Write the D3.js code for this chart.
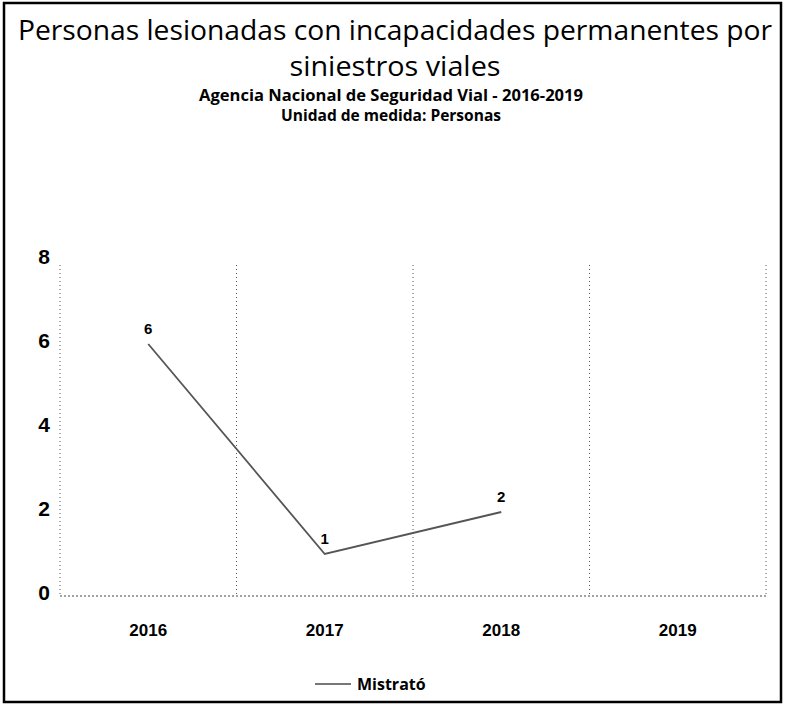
<!DOCTYPE html>
<html>
<head>
<meta charset="utf-8">
<script src="https://cdn.jsdelivr.net/npm/d3@7"></script>
<style>
  html, body { margin: 0; padding: 0; background: #fff; }
  svg { display: block; }
</style>
</head>
<body>
<svg id="chart" width="785" height="708"></svg>
<script>
// Data
const years = ["2016", "2017", "2018", "2019"];
const values = [6, 1, 2, null];
const yTicks = [0, 2, 4, 6, 8];
const seriesName = "Mistrató";
const titleLines = ["Personas lesionadas con incapacidades permanentes por", "siniestros viales"];
const titleWidths = [754, 211];
const subtitleLines = ["Agencia Nacional de Seguridad Vial - 2016-2019", "Unidad de medida: Personas"];
const subtitleWidths = [384, 220];

const svg = d3.select("#chart");
const plot = { left: 60, right: 766, top: 260, bottom: 596 };

// Frame
svg.append("rect")
  .attr("x", 4).attr("y", 3).attr("width", 777).attr("height", 699)
  .attr("fill", "none").attr("stroke", "#000").attr("stroke-width", 2.5);

// Titles
const title = svg.append("g").attr("font-family", "'Open Sans', sans-serif").attr("fill", "#000");
title.selectAll("text.t").data(titleLines).join("text")
  .attr("class", "t")
  .attr("x", 395).attr("y", (d, i) => 40 + i * 36)
  .attr("text-anchor", "middle")
  .attr("font-size", 28)
  .attr("textLength", (d, i) => titleWidths[i])
  .attr("lengthAdjust", "spacingAndGlyphs")
  .text(d => d);
title.selectAll("text.s").data(subtitleLines).join("text")
  .attr("class", "s")
  .attr("x", 391).attr("y", (d, i) => 101 + i * 20)
  .attr("text-anchor", "middle")
  .attr("font-size", 16)
  .attr("font-weight", "bold")
  .attr("textLength", (d, i) => subtitleWidths[i])
  .attr("lengthAdjust", "spacingAndGlyphs")
  .text(d => d);

// Scales
const x = d3.scaleBand().domain(years).range([plot.left, plot.right]).padding(0);
const y = d3.scaleLinear().domain([0, 8]).range([plot.bottom, plot.top]);

// Vertical dotted grid lines at band edges
const edges = years.map(d => x(d)).concat([x(years[years.length - 1]) + x.bandwidth()]);
svg.append("g").selectAll("line").data(edges).join("line")
  .attr("x1", d => d).attr("x2", d => d)
  .attr("y1", plot.top + 5).attr("y2", plot.bottom)
  .attr("stroke", "#555").attr("stroke-width", 1)
  .attr("stroke-dasharray", "1,3");

// Baseline
svg.append("line")
  .attr("x1", plot.left).attr("x2", plot.right)
  .attr("y1", y(0)).attr("y2", y(0))
  .attr("stroke", "#444").attr("stroke-width", 1)
  .attr("stroke-dasharray", "2,2");

// Y axis labels
const yAxis = d3.axisLeft(y).tickValues(yTicks).tickSize(0).tickPadding(0);
const gy = svg.append("g").attr("transform", "translate(50,0)").call(yAxis);
gy.select(".domain").remove();
gy.selectAll("text")
  .attr("font-family", "Arial, 'Liberation Sans', sans-serif")
  .attr("font-size", 21).attr("font-weight", "bold").attr("fill", "#000")
  .attr("dy", "0.15em");

// X axis labels
const xAxis = d3.axisBottom(x).tickSize(0).tickPadding(0);
const gx = svg.append("g").attr("transform", `translate(0,${plot.bottom + 28})`).call(xAxis);
gx.select(".domain").remove();
gx.selectAll("text")
  .attr("font-family", "Arial, 'Liberation Sans', sans-serif")
  .attr("font-size", 17).attr("font-weight", "bold").attr("fill", "#000");

// Series line
const pts = years.map((d, i) => ({ year: d, value: values[i] })).filter(d => d.value !== null);
const line = d3.line()
  .x(d => x(d.year) + x.bandwidth() / 2)
  .y(d => y(d.value));
svg.append("path")
  .datum(pts)
  .attr("d", line)
  .attr("fill", "none")
  .attr("stroke", "#555")
  .attr("stroke-width", 1.8);

// Value labels
svg.append("g").selectAll("text").data(pts).join("text")
  .attr("x", d => x(d.year) + x.bandwidth() / 2)
  .attr("y", d => y(d.value) - 10)
  .attr("text-anchor", "middle")
  .attr("font-family", "Arial, 'Liberation Sans', sans-serif")
  .attr("font-size", 15).attr("font-weight", "bold").attr("fill", "#000")
  .text(d => d.value);

// Legend
const lg = svg.append("g").attr("transform", "translate(315,684)");
lg.append("line").attr("x1", 0).attr("x2", 36).attr("y1", 0).attr("y2", 0)
  .attr("stroke", "#777").attr("stroke-width", 2);
lg.append("text").attr("x", 42).attr("y", 0).attr("dy", "0.35em")
  .attr("font-family", "'Open Sans', sans-serif")
  .attr("font-size", 16).attr("font-weight", "bold").attr("fill", "#000")
  .text(seriesName);
</script>
</body>
</html>
